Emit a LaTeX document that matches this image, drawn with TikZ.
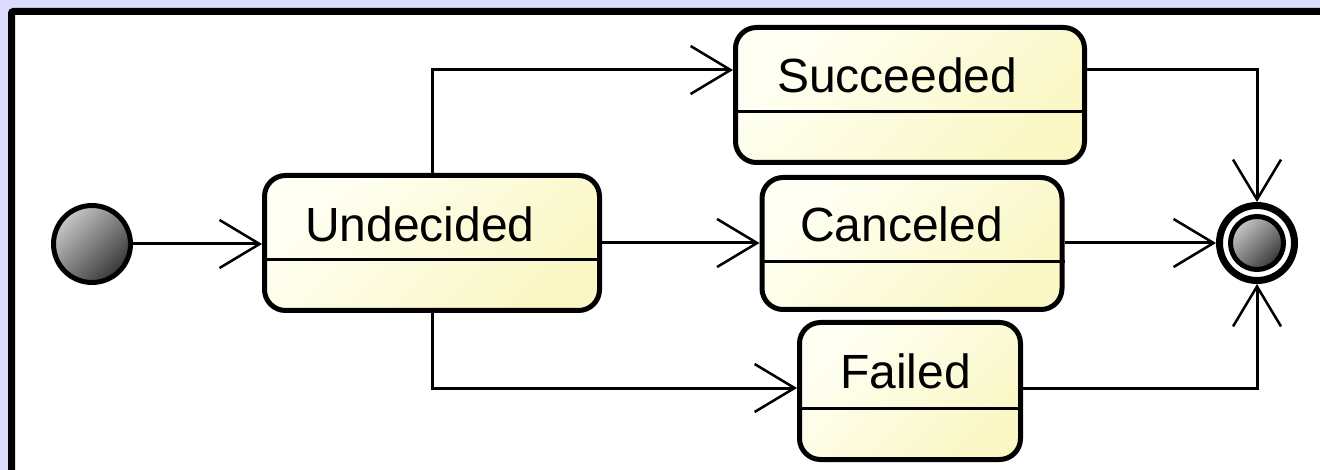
\documentclass[tikz,border=0pt]{standalone}
\usepackage{fontspec}
\setmainfont{Liberation Sans}
\usetikzlibrary{arrows.meta,shadows}
\definecolor{bgl}{HTML}{DCDCFF}
\definecolor{boxA}{HTML}{FFFFF4}
\definecolor{boxB}{HTML}{FAF7C4}
\definecolor{ballA}{HTML}{C8C8C8}
\definecolor{ballB}{HTML}{383838}
\begin{document}
\begin{tikzpicture}[x=1pt,y=-1pt,
  state/.style={draw, line width=5pt, rounded corners=21pt, top color=boxA, bottom color=boxB, shading angle=45, inner sep=0pt,
    drop shadow={shadow xshift=2pt, shadow yshift=-2pt, fill=black!15, opacity=1}},
  lbl/.style={anchor=base west, inner sep=0pt, font=\fontsize{48}{50}\selectfont},
  div/.style={line width=3pt},
  ball/.style={circle, draw, inner sep=0pt, top color=ballA, bottom color=ballB, shading angle=45},
  flow/.style={line width=3pt, -{Straight Barb[length=40pt,width=48pt,line width=2.5pt]}}]
\useasboundingbox (0,0) rectangle (1320,470);
\fill[bgl] (0,0) rectangle (1320,470);
\draw[line width=7pt, fill=white, rounded corners=2pt] (11.5,11.5) rectangle (1345,495);

% states
\node[state, minimum width=335pt, minimum height=135pt] (und) at (432,243) {};
\node[state, minimum width=349pt, minimum height=135pt] (succ) at (910,95) {};
\node[state, minimum width=300pt, minimum height=132pt] (canc) at (912,243.5) {};
\node[state, minimum width=221pt, minimum height=137pt] (fail) at (910,391) {};

\draw[div] (und.west |- 0,260) -- (und.east |- 0,260);
\draw[div] (succ.west |- 0,112) -- (succ.east |- 0,112);
\draw[div] (canc.west |- 0,262) -- (canc.east |- 0,262);
\draw[div] (fail.west |- 0,408) -- (fail.east |- 0,408);

\node[lbl] (undl) at (305,242) {Undecided};
\node[lbl] (succl) at (777,93) {Succeeded};
\node[lbl] (cancl) at (800,242) {Canceled};
\node[lbl] (faill) at (840,388) {Failed};

% initial and final
\node[ball, line width=5pt, minimum size=77pt] (init) at (92,244) {};
\node[circle, draw, line width=7pt, fill=white, inner sep=0pt, minimum size=75pt] (fin) at (1257,243) {};
\node[ball, line width=5pt, minimum size=53pt] (finc) at (fin.center) {};

% transitions
\draw[flow] (init.east) -- (init.east -| und.west);
\draw[flow] (und.north) |- ([yshift=25pt]succ.west);
\draw[flow] (und.east) -- (und.east -| canc.west);
\draw[flow] (und.south) |- ([yshift=3pt]fail.west);
\draw[flow] ([yshift=25pt]succ.east) -| (fin.north);
\draw[flow] (canc.east |- fin.west) -- (fin.west);
\draw[flow] ([yshift=3pt]fail.east) -| (fin.south);
\end{tikzpicture}
\end{document}
